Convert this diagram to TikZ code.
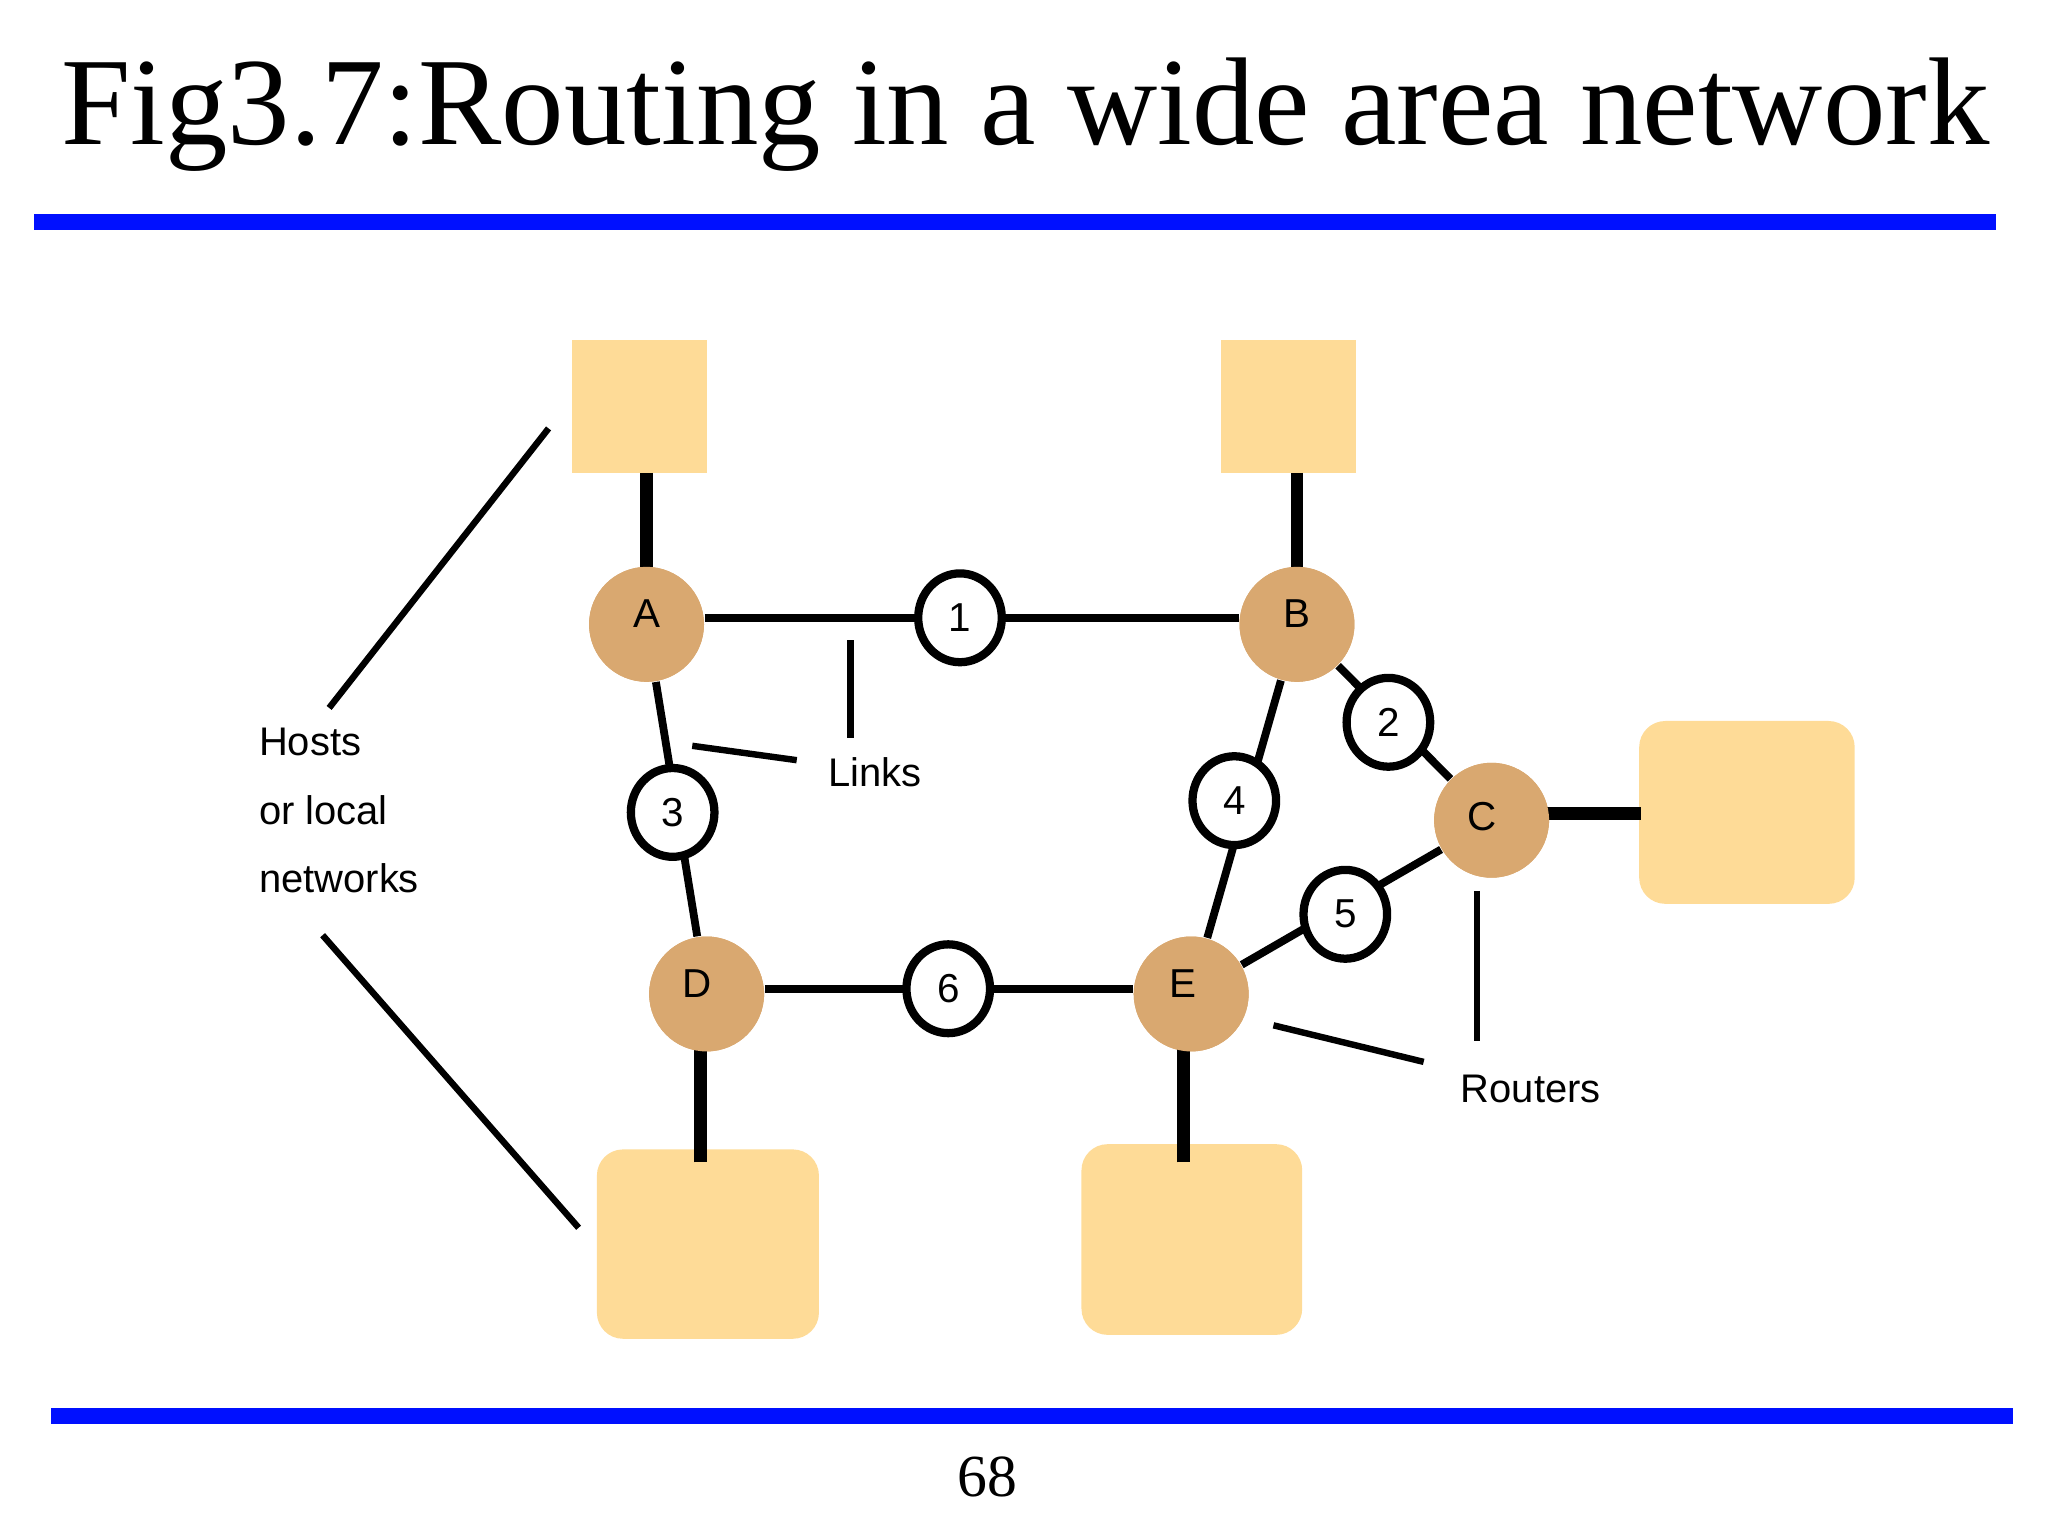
\documentclass[tikz,border=0pt]{standalone}
\usepackage{fontspec}
\usetikzlibrary{shapes.geometric}
\setmainfont{Liberation Serif}
\newfontfamily\sans{Liberation Sans}
\begin{document}
\begin{tikzpicture}[x=0.1mm,y=-0.1mm,
  router/.style={circle,fill=rcol,minimum size=88*0.1mm,inner sep=0pt},
  rl/.style={font=\sans\fontsize{8.8}{8.8}\selectfont},
  link/.style={ellipse,draw=black,line width=1.8pt,fill=white,minimum width=64*0.1mm,minimum height=68*0.1mm,inner sep=0pt,font=\sans\fontsize{8.8}{8.8}\selectfont},
  host/.style={fill=hcol,draw=none},
  lnk/.style={line width=1.7pt},
  tap/.style={line width=2.8pt},
  lab/.style={line width=1.4pt},
  txt/.style={font=\sans\fontsize{8.7}{8.7}\selectfont,anchor=west}]
\definecolor{rcol}{HTML}{D9A870}
\definecolor{hcol}{HTML}{FEDB97}
\definecolor{bl}{HTML}{0010FF}
\useasboundingbox (0,0) rectangle (1568,1176);
\node[font=\fontsize{27.2}{27.2}\selectfont] (title) at (785,88) {Fig3.7:Routing in a wide area network};
\fill[bl] (26,164) rectangle (1528,176);
\fill[bl] (39,1078) rectangle (1541,1090);
\node[font=\fontsize{13}{13}\selectfont] (pg) at (756,1131) {68};
% hosts
\fill[host] (438,260) rectangle (541,362);
\fill[host] (935,260) rectangle (1038,362);
\fill[host,rounded corners=2mm] (1255,552) rectangle (1420,692);
\fill[host,rounded corners=2mm] (457,880) rectangle (627,1025);
\fill[host,rounded corners=2mm] (828,876) rectangle (997,1022);
\coordinate (hA) at (495,362); \coordinate (hB) at (993,362);
\coordinate (hC) at (1256,623); \coordinate (hD) at (536,890); \coordinate (hE) at (906,890);
% routers
\node[router] (A) at (495,478) {};
\node[router] (B) at (993,478) {};
\node[router] (C) at (1142,628) {};
\node[router] (D) at (541,761) {};
\node[router] (E) at (912,761) {};
% links
\coordinate (l1) at (735,473); \coordinate (l2) at (1063,553);
\coordinate (l3) at (515,622); \coordinate (l4) at (945,613);
\coordinate (l5) at (1030,700); \coordinate (l6) at (726,757);
\draw[lnk] (A.east|-l1) -- (B.west|-l1);
\draw[lnk] (A) -- (D);
\draw[lnk] (B) -- (E);
\draw[lnk] (B) -- (C);
\draw[lnk] (C) -- (E);
\draw[lnk] (D.east|-l6) -- (E.west|-l6);
\draw[tap] (hA) -- (hA|-A.center); \draw[tap] (hB) -- (hB|-B.center); \draw[tap] (hC) -- (hC-|C.center);
\draw[tap] (hD) -- (hD|-D.center); \draw[tap] (hE) -- (hE|-E.center);
\node[router] at (A) {}; \node[router] at (B) {}; \node[router] at (C) {};
\node[router] at (D) {}; \node[router] at (E) {};
\node[rl] at ([yshift=0.8mm]A) {A};
\node[rl] at ([yshift=0.8mm]B) {B};
\node[rl] at ([yshift=0.3mm,xshift=-0.7mm]C) {C};
\node[rl] at ([yshift=0.8mm,xshift=-0.7mm]D) {D};
\node[rl] at ([yshift=0.8mm,xshift=-0.6mm]E) {E};
\node[link] (n1) at (l1) {1};
\node[link] (n2) at (l2) {2};
\node[link] (n3) at (l3) {3};
\node[link] (n4) at (l4) {4};
\node[link] (n5) at (l5) {5};
\node[link] (n6) at (l6) {6};
% labels
\node[txt] (t1) at (186,568) {Hosts};
\node[txt] (t2) at (186,620) {or local};
\node[txt] (t3) at (186,672) {networks};
\node[txt] (tl) at (622,591) {Links};
\node[txt] (tr) at (1106,834) {Routers};
\coordinate (a1) at (420,328); \coordinate (a2) at (252,542);
\coordinate (b1) at (247,716); \coordinate (b2) at (443,940);
\coordinate (c1) at (651,490); \coordinate (c2) at (651,565);
\coordinate (d1) at (530,571); \coordinate (d2) at (610,582);
\coordinate (e1) at (1131,682); \coordinate (e2) at (1131,797);
\coordinate (f1) at (975,785); \coordinate (f2) at (1090,813);
\draw[lab] (a1) -- (a2); \draw[lab] (b1) -- (b2);
\draw[lab] (c1) -- (c2); \draw[lab] (d1) -- (d2);
\draw[lab] (e1) -- (e2); \draw[lab] (f1) -- (f2);
\end{tikzpicture}
\end{document}
